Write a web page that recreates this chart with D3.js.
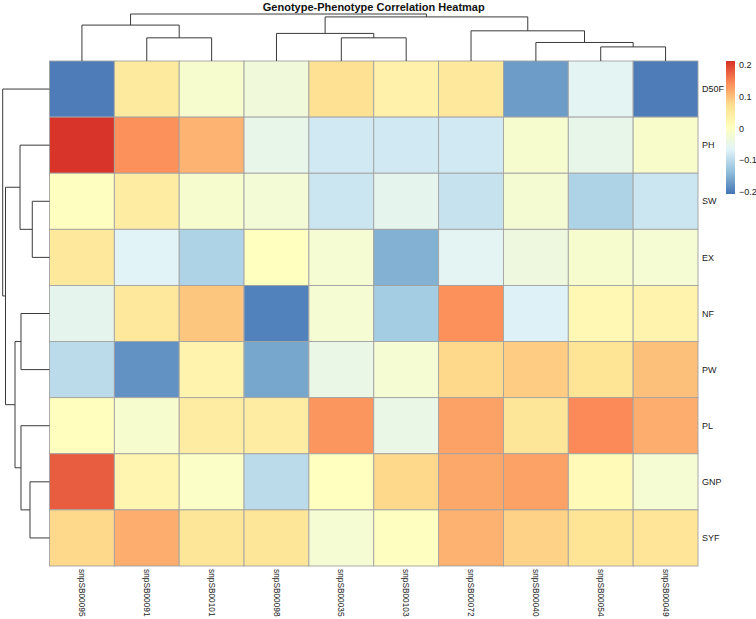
<!DOCTYPE html>
<html>
<head>
<meta charset="utf-8">
<script src="https://cdn.jsdelivr.net/npm/d3@7"></script>
<style>
  body { margin: 0; background: #fff; }
  svg { display: block; font-family: "Liberation Sans", Arial, sans-serif; }
</style>
</head>
<body>
<div id="chart"></div>
<script>
// column (genotype) labels in display order
const snps = ["snpSB00095", "snpSB00091", "snpSB00101", "snpSB00098", "snpSB00035",
              "snpSB00103", "snpSB00072", "snpSB00040", "snpSB00054", "snpSB00049"];

// row (phenotype) labels in display order
const traits = ["D50F", "PH", "SW", "EX", "NF", "PW", "PL", "GNP", "SYF"];

// correlation values, one row per trait
const corr = [
  [-0.200,  0.050, -0.015, -0.030,  0.070,  0.035,  0.055, -0.170, -0.060, -0.200],
  [ 0.210,  0.140,  0.110, -0.050, -0.080, -0.080, -0.080, -0.015, -0.050, -0.012],
  [ 0.000,  0.045, -0.015, -0.025, -0.085, -0.055, -0.090, -0.022, -0.110, -0.085],
  [ 0.055, -0.065, -0.110,  0.003, -0.020, -0.150, -0.060, -0.035, -0.015, -0.020],
  [-0.055,  0.055,  0.095, -0.195, -0.020, -0.120,  0.140, -0.070,  0.020,  0.030],
  [-0.100, -0.180,  0.030, -0.160, -0.045, -0.020,  0.080,  0.090,  0.065,  0.100],
  [ 0.005, -0.015,  0.045,  0.045,  0.135, -0.045,  0.125,  0.060,  0.145,  0.115],
  [ 0.180,  0.025, -0.005, -0.100,  0.003,  0.080,  0.120,  0.125,  0.015, -0.020],
  [ 0.080,  0.115,  0.060,  0.060, -0.020,  0.000,  0.112,  0.085,  0.065,  0.062]
];

// legend ticks
const legendTicks = [0.2, 0.1, 0, -0.1, -0.2];

// clustering trees: leaves are display indexes, h = relative merge height
const colTree = {h: 1.0, c: [
  {h: 0.764, c: [0, {h: 0.493, c: [1, 2]}]},
  {h: 0.938, c: [
    {h: 0.587, c: [3, {h: 0.493, c: [4, 5]}]},
    {h: 0.642, c: [6, {h: 0.394, c: [7, {h: 0.300, c: [8, 9]}]}]}
  ]}
]};
const rowTree = {h: 1.0, c: [
  0,
  {h: 0.94, c: [
    {h: 0.63, c: [1, {h: 0.368, c: [2, 3]}]},
    {h: 0.737, c: [
      {h: 0.609, c: [4, 5]},
      {h: 0.609, c: [6, {h: 0.417, c: [7, 8]}]}
    ]}
  ]}
]};

// pheatmap default palette (rev RdYlBu, 7)
const palette = ["#4575B4", "#91BFDB", "#E0F3F8", "#FFFFBF", "#FEE090", "#FC8D59", "#D73027"];
const lo = -0.207, hi = 0.213;

const W = 756, H = 619;
const hmLeft = 49.5, hmRight = 698, hmTop = 61, hmBottom = 566;

const svg = d3.select("#chart").append("svg")
  .attr("width", W)
  .attr("height", H);

const x = d3.scaleBand().domain(d3.range(snps.length)).range([hmLeft, hmRight]);
const y = d3.scaleBand().domain(d3.range(traits.length)).range([hmTop, hmBottom]);

const color = d3.scaleLinear()
  .domain(palette.map((p, i) => lo + (hi - lo) * i / (palette.length - 1)))
  .range(palette)
  .interpolate(d3.interpolateRgb);

// title
svg.append("text")
  .attr("x", (hmLeft + hmRight) / 2)
  .attr("y", 10.5)
  .attr("text-anchor", "middle")
  .attr("font-size", 11)
  .attr("font-weight", "bold")
  .attr("fill", "#111")
  .text("Genotype-Phenotype Correlation Heatmap");

// cells
const cells = [];
corr.forEach((row, r) => row.forEach((v, c) => cells.push({r: r, c: c, v: v})));

svg.append("g").selectAll("rect")
  .data(cells)
  .enter()
  .append("rect")
  .attr("x", d => x(d.c))
  .attr("y", d => y(d.r))
  .attr("width", x.bandwidth())
  .attr("height", y.bandwidth())
  .attr("fill", d => color(d.v))
  .attr("stroke", "#a3a3a3")
  .attr("stroke-width", 0.9);

// dendrograms
function drawTree(g, node, pos, hgt, vertical) {
  // returns [position, height] of this node
  if (typeof node === "number") return [pos(node), 0];
  const a = drawTree(g, node.c[0], pos, hgt, vertical);
  const b = drawTree(g, node.c[1], pos, hgt, vertical);
  let d;
  if (vertical) {
    d = "M" + a[0] + "," + hgt(a[1]) + "V" + hgt(node.h) + "H" + b[0] + "V" + hgt(b[1]);
  } else {
    d = "M" + hgt(a[1]) + "," + a[0] + "H" + hgt(node.h) + "V" + b[0] + "H" + hgt(b[1]);
  }
  g.append("path")
    .attr("d", d)
    .attr("fill", "none")
    .attr("stroke", "#3a3a3a")
    .attr("stroke-width", 1);
  return [(a[0] + b[0]) / 2, node.h];
}

const colH = d3.scaleLinear().domain([0, 1]).range([hmTop, 14]);
drawTree(svg.append("g"), colTree, i => x(i) + x.bandwidth() / 2, colH, true);

const rowH = d3.scaleLinear().domain([0, 1]).range([hmLeft, 2.7]);
drawTree(svg.append("g"), rowTree, i => y(i) + y.bandwidth() / 2, rowH, false);

// row labels
svg.append("g").selectAll("text")
  .data(traits)
  .enter()
  .append("text")
  .attr("x", hmRight + 4)
  .attr("y", (d, i) => y(i) + y.bandwidth() / 2)
  .attr("dy", "0.35em")
  .attr("font-size", 9)
  .attr("fill", "#222")
  .text(d => d);

// column labels, rotated
svg.append("g").selectAll("text")
  .data(snps)
  .enter()
  .append("text")
  .attr("transform", (d, i) => "translate(" + (x(i) + x.bandwidth() / 2) + "," + (hmBottom + 3) + ") rotate(90)")
  .attr("dy", "0.35em")
  .attr("font-size", 8.3)
  .attr("fill", "#222")
  .text(d => d);

// legend
const lx = 726, lw = 9;
const ly = d3.scaleLinear().domain([lo, hi]).range([194, 61]);

const grad = svg.append("defs").append("linearGradient")
  .attr("id", "legendGrad")
  .attr("x1", 0).attr("y1", 1).attr("x2", 0).attr("y2", 0);
grad.selectAll("stop")
  .data(palette)
  .enter()
  .append("stop")
  .attr("offset", (d, i) => i / (palette.length - 1))
  .attr("stop-color", d => d);

svg.append("rect")
  .attr("x", lx)
  .attr("y", ly(hi))
  .attr("width", lw)
  .attr("height", ly(lo) - ly(hi))
  .attr("fill", "url(#legendGrad)");

svg.append("g").selectAll("text")
  .data(legendTicks)
  .enter()
  .append("text")
  .attr("x", lx + lw + 4)
  .attr("y", d => ly(d))
  .attr("dy", "0.35em")
  .attr("font-size", 9)
  .attr("fill", "#222")
  .text(d => d3.format("")(d));
</script>
</body>
</html>
